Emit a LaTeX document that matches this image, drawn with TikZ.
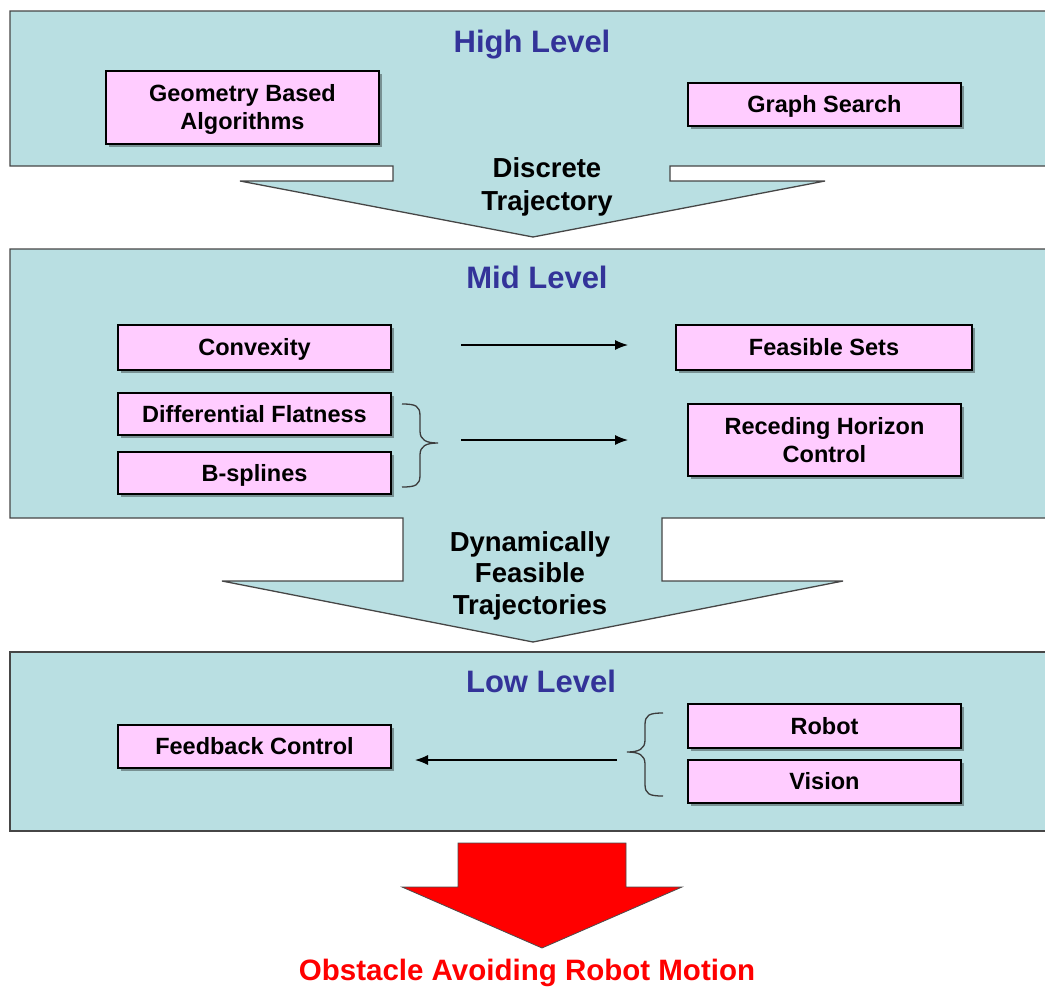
\documentclass[tikz,border=0pt]{standalone}
\usepackage{fontspec}
\setmainfont{Liberation Sans}
\usetikzlibrary{arrows.meta,shadows}
\definecolor{panelfill}{RGB}{185,223,226}
\definecolor{boxfill}{RGB}{255,204,255}
\definecolor{titleblue}{RGB}{51,51,153}
\definecolor{edgegray}{RGB}{70,70,70}
\definecolor{bracegray}{RGB}{60,60,60}
\begin{document}
\begin{tikzpicture}[x=1pt,y=-1pt,
  % centre text on its capital letters: height = cap height
  % (plus the extra lines' baseline skips), no depth
  capbox/.style={text height=#1,text depth=0pt},
  panel/.style={fill=panelfill,draw=edgegray,line width=1.3pt,line join=miter},
  box/.style={draw=black,line width=1.2pt,fill=boxfill,
    drop shadow={shadow xshift=3pt,shadow yshift=-3pt,fill=black,opacity=0.35},
    inner sep=0pt,align=center,capbox=16.8pt,
    font=\fontsize{23.5}{28}\selectfont\bfseries},
  title/.style={text=titleblue,capbox=22.2pt,font=\fontsize{31}{36}\selectfont\bfseries},
  flowtext/.style={align=center,inner sep=0pt},
  link/.style={line width=1.2pt,-{Latex[length=13pt,width=10pt]}},
  brace/.style={draw=bracegray,line width=1.3pt}]
\useasboundingbox (0,0) rectangle (1045,988);

% level panels, each with its arrow to the next level
\draw[panel] (10,11) -- (1047,11) -- (1047,166) -- (670,166) -- (670,181)
  -- (825,181) -- (533,237) -- (240,181) -- (393,181) -- (393,166)
  -- (10,166) -- cycle;
\draw[panel] (10,249) -- (1047,249) -- (1047,518) -- (662,518) -- (662,581)
  -- (843,581) -- (533,642) -- (222,581) -- (403,581) -- (403,518)
  -- (10,518) -- cycle;
\draw[panel] (10,652) rectangle (1047,831);

% final output arrow
\draw[fill=red,draw=black!70,line width=0.8pt] (458,843) -- (626,843)
  -- (626,887) -- (682,887) -- (542,948) -- (402,887) -- (458,887) -- cycle;

% titles
\node[title] (high) at (532,41) {High Level};
\node[title] (mid) at (537,277) {Mid Level};
\node[title] (low) at (541,681) {Low Level};

% flow labels
\node[flowtext,capbox=52.7pt,font=\fontsize{27.5}{33}\selectfont\bfseries] (discrete) at (547,184) {Discrete\\Trajectory};
\node[flowtext,capbox=82.7pt,font=\fontsize{27.5}{31.5}\selectfont\bfseries] (dynamic) at (530,573) {Dynamically\\Feasible\\Trajectories};
\node[text=red,capbox=21.1pt,font=\fontsize{29.5}{34}\selectfont\bfseries] (result) at (527,970) {Obstacle Avoiding Robot Motion};

% high level
\node[box,capbox=44.8pt,minimum width=273pt,minimum height=73pt] (geo) at (242.5,107.5) {Geometry Based\\Algorithms};
\node[box,minimum width=273pt,minimum height=43pt] (graph) at (824.5,104.5) {Graph Search};

% mid level
\node[box,minimum width=273pt,minimum height=45pt] (conv) at (254.5,347.5) {Convexity};
\node[box,minimum width=296pt,minimum height=45pt] (feas) at (824,347.5) {Feasible Sets};
\node[box,minimum width=273pt,minimum height=42pt] (diff) at (254.5,414) {Differential Flatness};
\node[box,minimum width=273pt,minimum height=42pt] (bspl) at (254.5,473) {B-splines};
\node[box,capbox=44.8pt,minimum width=273pt,minimum height=72pt] (rhc) at (824.5,440) {Receding Horizon\\Control};

% low level
\node[box,minimum width=273pt,minimum height=43pt] (fb) at (254.5,746.5) {Feedback Control};
\node[box,minimum width=273pt,minimum height=44pt] (robot) at (824.5,726) {Robot};
\node[box,minimum width=273pt,minimum height=43pt] (vision) at (824.5,781.5) {Vision};

% connectors
\coordinate (c1s) at (461,345); \coordinate (c1e) at (628,345);
\coordinate (c2s) at (461,440); \coordinate (c2e) at (628,440);
\coordinate (c3s) at (617,760); \coordinate (c3e) at (415,760);
\draw[link] (c1s) -- (c1e);
\draw[link] (c2s) -- (c2e);
\draw[link] (c3s) -- (c3e);

% braces
\draw[brace] (402,404) .. controls (416,404) and (420,406) .. (420,416)
  -- (420,431) .. controls (420,440) and (426,443) .. (438,443)
  .. controls (426,443) and (420,446) .. (420,455)
  -- (420,475) .. controls (420,485) and (416,487) .. (402,487);
\draw[brace] (663,713) .. controls (649,713) and (645,715) .. (645,725)
  -- (645,740) .. controls (645,749) and (639,752) .. (627,752)
  .. controls (639,752) and (645,755) .. (645,764)
  -- (645,784) .. controls (645,794) and (649,796) .. (663,796);
\end{tikzpicture}
\end{document}
